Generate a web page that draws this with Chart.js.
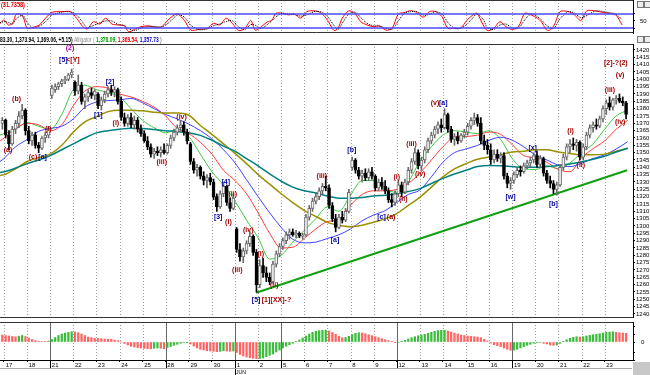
<!DOCTYPE html>
<html><head><meta charset="utf-8">
<script src="https://cdn.jsdelivr.net/npm/chart.js@4.4.1/dist/chart.umd.min.js"></script>
<style>
html,body{margin:0;padding:0;background:#fff;}
#wrap{position:relative;width:650px;height:375px;overflow:hidden;background:#fff;font-family:'Liberation Sans',Arial,sans-serif;}
canvas{position:absolute;left:0;}
.t{position:absolute;white-space:nowrap;font-weight:bold;font-size:7px;line-height:8px;transform-origin:0 0;}
.ic{position:absolute;width:5px;height:5px;border:1px solid #777;background:#eee;}
</style></head><body><div id="wrap">
<canvas id="cS" width="650" height="34" style="top:0"></canvas>
<canvas id="cM" width="650" height="274" style="top:44px"></canvas>
<canvas id="cH" width="650" height="55" style="top:320px"></canvas>
<div class="t" style="left:1px;top:1px;color:#e00000;transform:scaleX(.8)">(31.7358)</div>
<div class="t" style="left:0;top:36px;transform:scaleX(.7)"><span style="color:#000">83.30, 1,373.94, 1,369.06, +5.15)</span> <span style="color:#8a8a8a;font-weight:normal">Alligator (</span> <span style="color:#00a000">1,378.09,</span> <span style="color:#e00000">1,369.54,</span> <span style="color:#0000d0">1,357.73</span><span style="color:#8a8a8a"> )</span></div>
<div class="t" style="left:236px;top:368px;font-weight:normal;font-size:6px;transform:scaleX(.85)">JUN</div>
<div style="position:absolute;left:0;top:368px;width:632px;height:1px;background:#aaa"></div>
<div style="position:absolute;left:633px;top:362px;width:17px;height:13px;background:#c8c8c8"></div>
<div class="ic" style="left:637px;top:1px"></div><div class="ic" style="left:644px;top:1px"></div>
<div class="ic" style="left:637px;top:36px"></div><div class="ic" style="left:644px;top:36px"></div>
</div>
<script>
// ---------------- DATA ----------------
const dayLabels = ['17','18','21','22','23','24','25','28','29','30','1','2','5','6','7','8','9','12','13','14','15','16','19','20','21','22','23'];
const weekStartIdx = [2,7,10,12,17,22];
const monthStartIdx = 10;

const open  = [1370,
1372,1362,1356,1366,1370,1375,1379, 1365,1358,1362,1355,1353,1360,1362, 1389,1393,1395,1397,1399,1400,1403,
1398,1392,1396,1385,1388,1391,1389, 1390,1382,1386,1390,1393,1391,1393, 1385,1374,1370,1374,1369,1372,1366,
1363,1358,1354,1349,1351,1350,1352, 1350,1355,1360,1364,1367,1369,1364, 1356,1344,1338,1340,1334,1331,1333,
1330,1320,1313,1322,1327,1316,1312, 1298,1284,1279,1283,1288,1293,1282, 1260,1273,1268,1265,1262,1274,1281,
1286,1290,1294,1296,1294,1295,1293, 1294,1306,1312,1317,1320,1324,1327, 1326,1314,1305,1299,1306,1304,1310,
1340,1345,1338,1334,1336,1333,1337, 1334,1326,1330,1327,1324,1318,1316, 1322,1328,1323,1330,1338,1344,1350,
1341,1345,1352,1358,1362,1366,1369, 1367,1376,1366,1359,1361,1358,1362, 1364,1368,1372,1374,1370,1358,1355,
1352,1345,1349,1346,1348,1334,1329, 1331,1335,1338,1337,1341,1343,1345, 1348,1342,1346,1336,1331,1329,1325,
1328,1340,1347,1354,1356,1355,1357, 1347,1354,1362,1367,1369,1368,1373, 1380,1384,1381,1386,1387,1385,1384];
const high  = [1374,
1373,1365,1368,1372,1378,1383,1380, 1368,1364,1364,1357,1361,1364,1368, 1396,1397,1398,1400,1402,1404,1407,
1399,1403,1398,1390,1393,1394,1393, 1391,1388,1392,1395,1396,1395,1394, 1388,1377,1376,1377,1375,1374,1369,
1365,1361,1356,1353,1354,1354,1356, 1356,1362,1366,1369,1372,1371,1366, 1357,1346,1342,1341,1337,1335,1336,
1332,1322,1324,1330,1328,1319,1322, 1299,1288,1285,1290,1296,1294,1284, 1277,1278,1272,1268,1276,1283,1288,
1292,1296,1298,1298,1297,1296,1295, 1308,1314,1319,1323,1326,1329,1334, 1328,1316,1308,1308,1310,1312,1325,
1347,1346,1340,1338,1339,1339,1340, 1335,1332,1333,1331,1326,1322,1324, 1331,1330,1332,1340,1346,1353,1352,
1347,1354,1360,1364,1368,1371,1373, 1380,1377,1368,1363,1364,1363,1366, 1370,1374,1377,1376,1374,1362,1359,
1356,1352,1352,1350,1350,1336,1333, 1337,1340,1341,1343,1345,1347,1350, 1351,1348,1347,1338,1334,1331,1330,
1342,1349,1356,1359,1360,1359,1358, 1356,1364,1369,1371,1373,1375,1382, 1386,1388,1387,1389,1390,1388,1385];
const low   = [1366,
1360,1352,1355,1363,1367,1373,1362, 1356,1355,1353,1350,1352,1357,1360, 1387,1391,1393,1395,1397,1399,1401,
1389,1390,1383,1380,1385,1387,1386, 1380,1379,1384,1388,1389,1388,1383, 1372,1368,1368,1367,1366,1364,1361,
1357,1352,1347,1346,1348,1347,1349, 1349,1353,1358,1362,1364,1362,1356, 1342,1336,1334,1332,1328,1326,1328,
1318,1310,1312,1320,1314,1310,1311, 1282,1276,1275,1281,1286,1280,1255, 1258,1265,1262,1260,1261,1272,1279,
1284,1288,1291,1293,1292,1292,1291, 1293,1304,1310,1315,1318,1322,1324, 1312,1303,1296,1298,1302,1303,1309,
1338,1336,1332,1330,1331,1331,1332, 1324,1324,1325,1322,1316,1313,1314, 1320,1320,1322,1328,1336,1342,1339,
1338,1343,1350,1356,1360,1363,1364, 1366,1364,1357,1355,1356,1357,1360, 1362,1366,1369,1368,1356,1352,1349,
1342,1343,1344,1343,1332,1326,1325, 1329,1333,1334,1336,1339,1340,1343, 1340,1340,1334,1329,1326,1322,1321,
1327,1338,1345,1350,1352,1351,1345, 1345,1352,1360,1364,1366,1367,1371, 1376,1379,1379,1383,1384,1382,1373];
const close = [1372,
1362,1356,1366,1370,1375,1379,1365, 1358,1362,1355,1353,1360,1362,1366, 1394,1395,1397,1399,1400,1403,1405,
1392,1396,1385,1388,1391,1389,1392, 1382,1386,1390,1393,1391,1393,1385, 1374,1370,1374,1369,1372,1366,1363,
1358,1354,1349,1351,1350,1352,1350, 1355,1360,1364,1367,1369,1364,1358, 1344,1338,1340,1334,1331,1333,1330,
1320,1313,1322,1327,1316,1312,1319, 1284,1279,1283,1288,1293,1282,1260, 1273,1268,1265,1262,1274,1281,1286,
1290,1294,1296,1294,1295,1293,1294, 1306,1312,1317,1320,1324,1327,1326, 1314,1305,1299,1306,1304,1310,1323,
1345,1338,1334,1336,1333,1337,1334, 1326,1330,1327,1324,1318,1316,1322, 1328,1323,1330,1338,1344,1350,1341,
1345,1352,1358,1362,1366,1369,1367, 1376,1366,1359,1361,1358,1362,1364, 1368,1372,1374,1370,1358,1355,1352,
1345,1349,1346,1348,1334,1329,1331, 1335,1338,1337,1341,1343,1345,1348, 1342,1346,1336,1331,1329,1325,1328,
1340,1347,1354,1356,1355,1357,1347, 1354,1362,1367,1369,1368,1373,1380, 1384,1381,1386,1387,1385,1384,1376];

// moving averages, sampled every half day (first sample at the left edge)
const maGreen = [1362,1363,1366,1370.5,1368,1366,1376,1393,1396,1393,1391,1388,1380,1372,1367,1363.5,1366,1361,1349,1337,1328,1317,1304,1292,1277.5,1280,1289,1297,1305,1313,1310,1321,1331,1331,1325,1323,1330,1344,1354,1362,1365,1364,1363,1365,1359,1346,1339,1338.5,1341,1339,1343,1350,1356,1366,1375,1379];
const maRed   = [1358,1360,1366.5,1370,1369,1365,1369,1382,1392,1395,1394,1390,1388,1385,1381,1375,1366.5,1363,1357,1349,1338,1331,1322,1309,1295,1285,1285.5,1291.5,1298,1303,1304.5,1314,1321.5,1324,1324,1325,1329,1336,1345,1354,1360.5,1361,1362,1364,1362.5,1355.5,1348,1346.5,1343.5,1338.5,1337,1346.5,1352.7,1358,1366,1372];
const maBlue  = [1344,1346,1354,1359,1364.5,1366.5,1368,1373,1381,1384.5,1385.5,1386,1387,1384,1380,1376,1373,1369.5,1365,1359.5,1352,1343,1331.5,1320,1309,1299,1291,1288.5,1289,1291.5,1294,1298,1303.5,1307.5,1310.5,1316,1321.5,1324.5,1333.5,1343.5,1350,1352.5,1355,1358.5,1360.5,1358.5,1354,1348.5,1345,1341.5,1340.5,1342.8,1346,1348.5,1352.5,1357.5];
const maOlive = [1334.5,1335,1339,1344,1346.5,1349,1355,1364,1371,1374.5,1378,1379,1379,1378.5,1377.5,1377,1377,1375.5,1368.5,1362.5,1356,1349.5,1342.5,1335,1328.5,1322,1316,1310.5,1306.5,1302.5,1300.5,1299.5,1300.5,1302.5,1305,1308.5,1314,1319.5,1326.5,1333.5,1339,1342.5,1345.5,1347,1348.5,1350.5,1351,1352,1352,1350.5,1349.5,1348.5,1348.5,1349,1351,1353];
const maTeal  = [1336.5,1337,1339.5,1342.5,1345,1348,1352,1356,1360,1363.5,1365,1366,1366.7,1366.5,1365.8,1365,1364.5,1363.5,1361.8,1358.5,1354.5,1351,1346,1341,1335.5,1330.5,1326.5,1324,1322.5,1320.5,1319,1319,1319.5,1320.5,1321,1322,1323.5,1325.5,1329,1332.5,1335.5,1338,1340.5,1341.3,1341,1340.5,1340,1340,1340.5,1341.3,1342.3,1343.8,1345.5,1347.5,1350.5,1353];

// stochastic (%K red, %D dotted), sampled at bar positions
const stochX = [-0.7,0.55,1.8,3.1,4.3,6.2,7.5,9.3,11.2,13.1,15.0,18.1,20.7,22.5,24.4,25.7,27.6,29.5,31.3,33.2,35.1,37.0,38.3,40.1,42.0,44.5,46.4,48.3,50.2,52.1,53.3,55.2,57.1,59.6,62.1,64.0,65.9,67.8,69.7,71.6,73.5,75.3,76.6,78.5,80.4,81.6,82.9,84.8,86.7,88.5,90.4,92.3,94.8,96.7,98.6,100.5,101.7,103.0,104.9,106.8,108.6,110.5,112.4,114.3,116.2,118.1,120.0,121.8,123.7,125.6,127.5,129.4,131.3,133.2,135.0,136.9,138.8,140.7,142.6,143.8,145.7,147.0,148.9,150.8,152.6,154.5,156.4,158.3,160.2,162.1,163.3,165.2,167.1,169.0,171.5,173.4,175.3,177.1,179.7,182.2,184.0,185.9,187.8];
const stochK = [40,54,33,40,80,69,19,23,33,62,87,90,89,62,26,16,47,37,62,37,33,29,4,14,26,29,23,26,54,76,79,52,11,14,19,40,33,62,40,9,19,52,11,26,47,52,83,83,76,80,62,90,93,83,52,9,19,62,93,83,47,33,26,29,11,19,80,86,94,86,66,90,90,69,19,19,19,52,76,83,33,9,19,47,26,14,26,83,76,62,47,9,29,90,90,76,52,93,93,86,83,76,33];
const stochD = [42,47,44,37,60,74,44,21,28,47,74,88,89,76,44,21,31,42,50,50,35,31,17,9,20,27,26,25,40,65,77,66,32,13,16,30,37,48,51,25,14,35,32,18,36,50,67,83,80,78,71,76,91,88,68,31,14,40,78,88,65,40,30,28,20,15,50,83,90,90,76,78,90,80,44,19,19,35,64,80,58,21,14,33,37,20,20,55,80,69,55,28,19,60,90,83,64,73,93,90,85,80,55];
const stochLevels = [80, 20];

// oscillator histogram, one value per bar
const histVals = [7.0,
6.5,6.0,5.5,5.2,5.8,6.5,5.5, 4.0,2.5,1.3,0.8,0.5,0.3,0.9, 2.5,4.5,6.5,8.0,9.0,9.7,10.2,
10.0,9.3,8.0,6.5,5.0,4.3,3.7, 3.5,3.3,3.0,2.8,2.7,2.0,1.3, 0.0,-1.5,-3.0,-4.3,-5.0,-5.7,-6.0,
-6.3,-6.7,-6.8,-6.3,-6.0,-6.3,-6.7, -5.5,-4.5,-3.3,-2.3,-1.3,-0.7,-0.3, -2.0,-4.0,-6.0,-7.3,-8.0,-8.7,-9.0,
-9.3,-9.7,-9.3,-8.7,-9.0,-9.3,-9.0, -10.5,-12.5,-14.0,-15.0,-15.7,-16.3,-16.7, -16.5,-16.0,-14.7,-13.3,-12.0,-10.0,-8.0,
-6.0,-4.3,-2.7,-1.3,0.3,2.0,4.0, 6.0,8.0,9.7,10.7,11.3,11.7,11.8, 11.0,9.5,7.7,5.7,4.3,4.5,5.7,
7.5,8.7,9.3,9.0,8.3,7.3,6.3, 5.3,4.3,3.3,2.3,1.3,0.3,-0.7, -0.5,0.3,1.7,3.0,4.3,5.3,6.3,
7.0,7.7,8.7,9.7,10.7,11.3,11.7, 11.8,11.0,10.0,9.0,8.0,7.0,6.5, 6.0,5.7,5.3,5.0,4.3,2.7,1.0,
-1.0,-2.7,-3.7,-4.7,-6.0,-7.3,-8.3, -8.0,-7.3,-6.0,-4.7,-3.3,-2.3,-1.3, -0.7,-0.5,-1.3,-2.0,-3.0,-3.3,-3.0,
-1.3,0.7,2.3,3.7,4.7,5.3,5.0, 5.3,6.0,6.7,7.3,7.7,8.3,9.0, 9.7,10.0,10.2,9.7,9.3,9.0,8.7];

const trendLine = [[76.9,1254.5],[189.3,1338]];
const priceTicks = [1240,1245,1250,1255,1260,1265,1270,1275,1280,1285,1290,1295,1300,1305,1310,1315,1320,1325,1330,1335,1340,1345,1350,1355,1360,1365,1370,1375,1380,1385,1390,1395,1400,1405,1410,1415,1420];

const R='#a00000', B='#0000a0', P='#a000a0';
const waveLabels = [
 [1.7,1351.8,'(a)',R],[4.3,1386.8,'(b)',R],[9.3,1347,'(c)',R],[12.2,1347,'[a]',B],[13.9,1366,'(i)',R],
 [20.5,1421,'(2)',P],[18.5,1413,'[5]',B],[21.4,1413,'<[Y]',R],
 [29.1,1375.5,'[1]',B],[32.6,1398,'[2]',B],[34.4,1370,'(i)',R],[48.3,1343.6,'(iii)',R],[54.3,1374.3,'(iv)',R],
 [65.4,1306,'[3]',B],[67.7,1330,'[4]',B],[68.5,1302.7,'(i)',R],[69.8,1321.6,'(ii)',R],[71.2,1270,'(iii)',R],[74.5,1297,'(iv)',R],
 [78.3,1280.7,'(i)',R],[82.4,1260,'(ii)',R],
 [76.9,1249.6,'[5]',B],[79.9,1249.6,'[1]',R],[84.4,1249.6,'[XX]-?',R],
 [96.8,1333.9,'(iii)',R],[100.8,1290.3,'[a]',B],[105.9,1351.6,'[b]',B],[114.9,1306,'[c]',B],[117.8,1306,'(a)',R],
 [119.5,1333.4,'(i)',R],[121.5,1318.6,'(ii)',R],[124,1356,'(iii)',R],[126.6,1335.7,'(iv)',R],
 [131.1,1383.9,'(v)',R],[133.6,1383.9,'[a]',B],
 [154,1319.8,'[w]',B],[160.7,1353.2,'[x]',B],[167,1314.8,'[b]',B],
 [172.2,1364.6,'(i)',R],[175.3,1341.4,'(ii)',R],[184.1,1392.5,'(iii)',R],[187.2,1371,'(iv)',R],[187.2,1403.2,'(v)',R],[185.9,1411.4,'[2]-?(2)',R]
];

// ---------------- CHARTS ----------------
Chart.defaults.font.family = "'Liberation Sans', Arial, sans-serif";
Chart.defaults.animation = false;
const X_MIN = -0.712, X_MAX = 191.1;
const maX = [-0.7].concat(Array.from({length:55},(_,m)=>0.5+3.5*m));
const idx = close.map((_,i)=>i);
const isUp = i => close[i] >= open[i];

const sepPlugin = {
  id:'sep',
  beforeDatasetsDraw(chart, args, opts){
    const {ctx, chartArea:a, scales:{x}} = chart;
    ctx.save(); ctx.lineWidth = 1;
    dayLabels.forEach((l,k)=>{
      const px = Math.round(x.getPixelForValue(0.5+7*k)) + 0.5;
      const solid = opts.solidWeeks && weekStartIdx.includes(k);
      ctx.strokeStyle = solid ? '#666' : '#a0a0a0';
      ctx.setLineDash(solid ? [] : [1,2]);
      ctx.beginPath(); ctx.moveTo(px,a.top); ctx.lineTo(px,a.bottom); ctx.stroke();
    });
    ctx.restore();
  },
  afterDraw(chart, args, opts){
    const {ctx, chartArea:a, scales:{x}} = chart;
    ctx.save(); ctx.strokeStyle = '#333'; ctx.lineWidth = 1; ctx.setLineDash([]);
    ctx.beginPath();
    if (opts.top) { ctx.moveTo(0,a.top+0.5); ctx.lineTo(a.right,a.top+0.5); }
    if (opts.bottom) { ctx.moveTo(0,a.bottom-0.5); ctx.lineTo(a.right,a.bottom-0.5); }
    ctx.stroke();
    if (opts.longTicks) {
      ctx.strokeStyle = '#000';
      weekStartIdx.forEach(k=>{
        const px = Math.round(x.getPixelForValue(0.5+7*k)) + 0.5;
        ctx.beginPath(); ctx.moveTo(px,a.bottom); ctx.lineTo(px, k===monthStartIdx ? chart.height : a.bottom+8); ctx.stroke();
      });
    }
    ctx.restore();
  }
};

const wavePlugin = {
  id:'waves',
  afterDatasetsDraw(chart){
    const {ctx, scales:{x,y}} = chart;
    ctx.save(); ctx.font = "bold 7px 'Liberation Sans', Arial, sans-serif";
    ctx.textAlign = 'center'; ctx.textBaseline = 'middle';
    waveLabels.forEach(([v,p,t,c])=>{ ctx.fillStyle = c; ctx.fillText(t, x.getPixelForValue(v), y.getPixelForValue(p)); });
    ctx.restore();
  }
};

const rightAxis = (min, max, ticksArr, labelFn, pad) => ({
  type:'linear', position:'right', min, max,
  afterBuildTicks: s => { s.ticks = ticksArr.map(v=>({value:v})); },
  afterFit: s => { s.width = 17; s.paddingTop = 0; s.paddingBottom = 0; },
  ticks:{ autoSkip:false, font:{size:6}, color:'#000', padding:pad, callback: labelFn },
  grid:{ drawOnChartArea:false, tickLength:2, tickColor:'#000' },
  border:{ display:true, color:'#000' }
});
const xHidden = { type:'linear', min:X_MIN, max:X_MAX, offset:false, display:false };
const commonPlugins = { legend:{display:false}, tooltip:{enabled:false} };

// Stochastic panel
new Chart(document.getElementById('cS'), {
  type:'line',
  data:{ datasets:[
    ...stochLevels.map(l=>({ data:[{x:X_MIN,y:l},{x:X_MAX,y:l}], borderColor:'#4848ff', borderWidth:1.5, pointRadius:0 })),
    { data: stochX.map((x,j)=>({x, y:stochD[j]})), borderColor:'#000', borderWidth:1, borderDash:[1,1], pointRadius:0, tension:0.3 },
    { data: stochX.map((x,j)=>({x, y:stochK[j]})), borderColor:'#ff0000', borderWidth:1, pointRadius:0, tension:0.3 }
  ]},
  options:{ responsive:false, events:[], layout:{padding:{bottom:1}},
    plugins:{ ...commonPlugins, sep:{top:true, bottom:true} },
    scales:{ x:xHidden, y: rightAxis(-1.3, 139.7, [20,50,80], v => v===50 ? '50' : '', 5) } },
  plugins:[sepPlugin]
});

// Main price panel
const maSet = (vals, color, w) => ({ type:'line', data: maX.map((x,j)=>({x, y:vals[j]})), borderColor:color, borderWidth:w, pointRadius:0, cubicInterpolationMode:'monotone', order:3 });
new Chart(document.getElementById('cM'), {
  type:'bar',
  data:{ datasets:[
    { type:'bar', data: idx.map(i=>({x:i, y:[open[i], close[i]]})), barThickness:3, grouped:false, borderSkipped:false, borderWidth:1,
      backgroundColor: c => isUp(c.dataIndex) ? '#f4f4f4' : '#000000', borderColor: c => isUp(c.dataIndex) ? '#6a6a6a' : '#000000', order:0 },
    { type:'bar', data: idx.map(i=>({x:i, y:[low[i], high[i]]})), barThickness:1, grouped:false, borderSkipped:false, borderWidth:0,
      backgroundColor: c => isUp(c.dataIndex) ? '#6a6a6a' : '#000000', order:1 },
    maSet(maTeal, '#008080', 1.5),
    maSet(maOlive, '#9a9000', 1.5),
    maSet(maBlue, '#4040ff', 1),
    maSet(maRed, '#ff3c3c', 1),
    maSet(maGreen, '#3cc83c', 1),
    { type:'line', data: trendLine.map(([x,y])=>({x,y})), borderColor:'#10a010', borderWidth:2, pointRadius:0, order:2 }
  ]},
  options:{ responsive:false, events:[], layout:{padding:0},
    plugins:{ ...commonPlugins, sep:{top:true, bottom:true} },
    scales:{ x:xHidden, y: rightAxis(1237.27, 1424.09, priceTicks, v => String(v), 1) } },
  plugins:[sepPlugin, wavePlugin]
});

// Histogram panel with date axis
new Chart(document.getElementById('cH'), {
  type:'bar',
  data:{ datasets:[
    { data: idx.map(i=>({x:i, y:histVals[i]})), barThickness:1.6, grouped:false, borderWidth:0,
      backgroundColor: c => (c.dataIndex>0 && histVals[c.dataIndex] > histVals[c.dataIndex-1]) ? '#3cbc3c' : '#ff6464' }
  ]},
  options:{ responsive:false, events:[], layout:{padding:{top:2}},
    plugins:{ ...commonPlugins, sep:{top:true, solidWeeks:true, longTicks:true} },
    scales:{
      x:{ type:'linear', min:X_MIN, max:X_MAX, offset:false, position:'bottom',
        afterBuildTicks: s => { s.ticks = dayLabels.map((l,k)=>({value:0.5+7*k})); },
        afterFit: s => { s.height = 15; s.paddingLeft = 0; s.paddingRight = 0; },
        ticks:{ autoSkip:false, maxRotation:0, minRotation:0, align:'start', font:{size:6}, color:'#000', padding:0, callback:(v,i)=>' '+dayLabels[i] },
        grid:{ drawOnChartArea:false, offset:false, tickLength:2, tickColor:'#000' },
        border:{ display:true, color:'#000' } },
      y: rightAxis(-18, 20, [-18,-10,0,8,15], v => v===0 ? '0' : '', 6)
    } },
  plugins:[sepPlugin]
});
</script></body></html>
